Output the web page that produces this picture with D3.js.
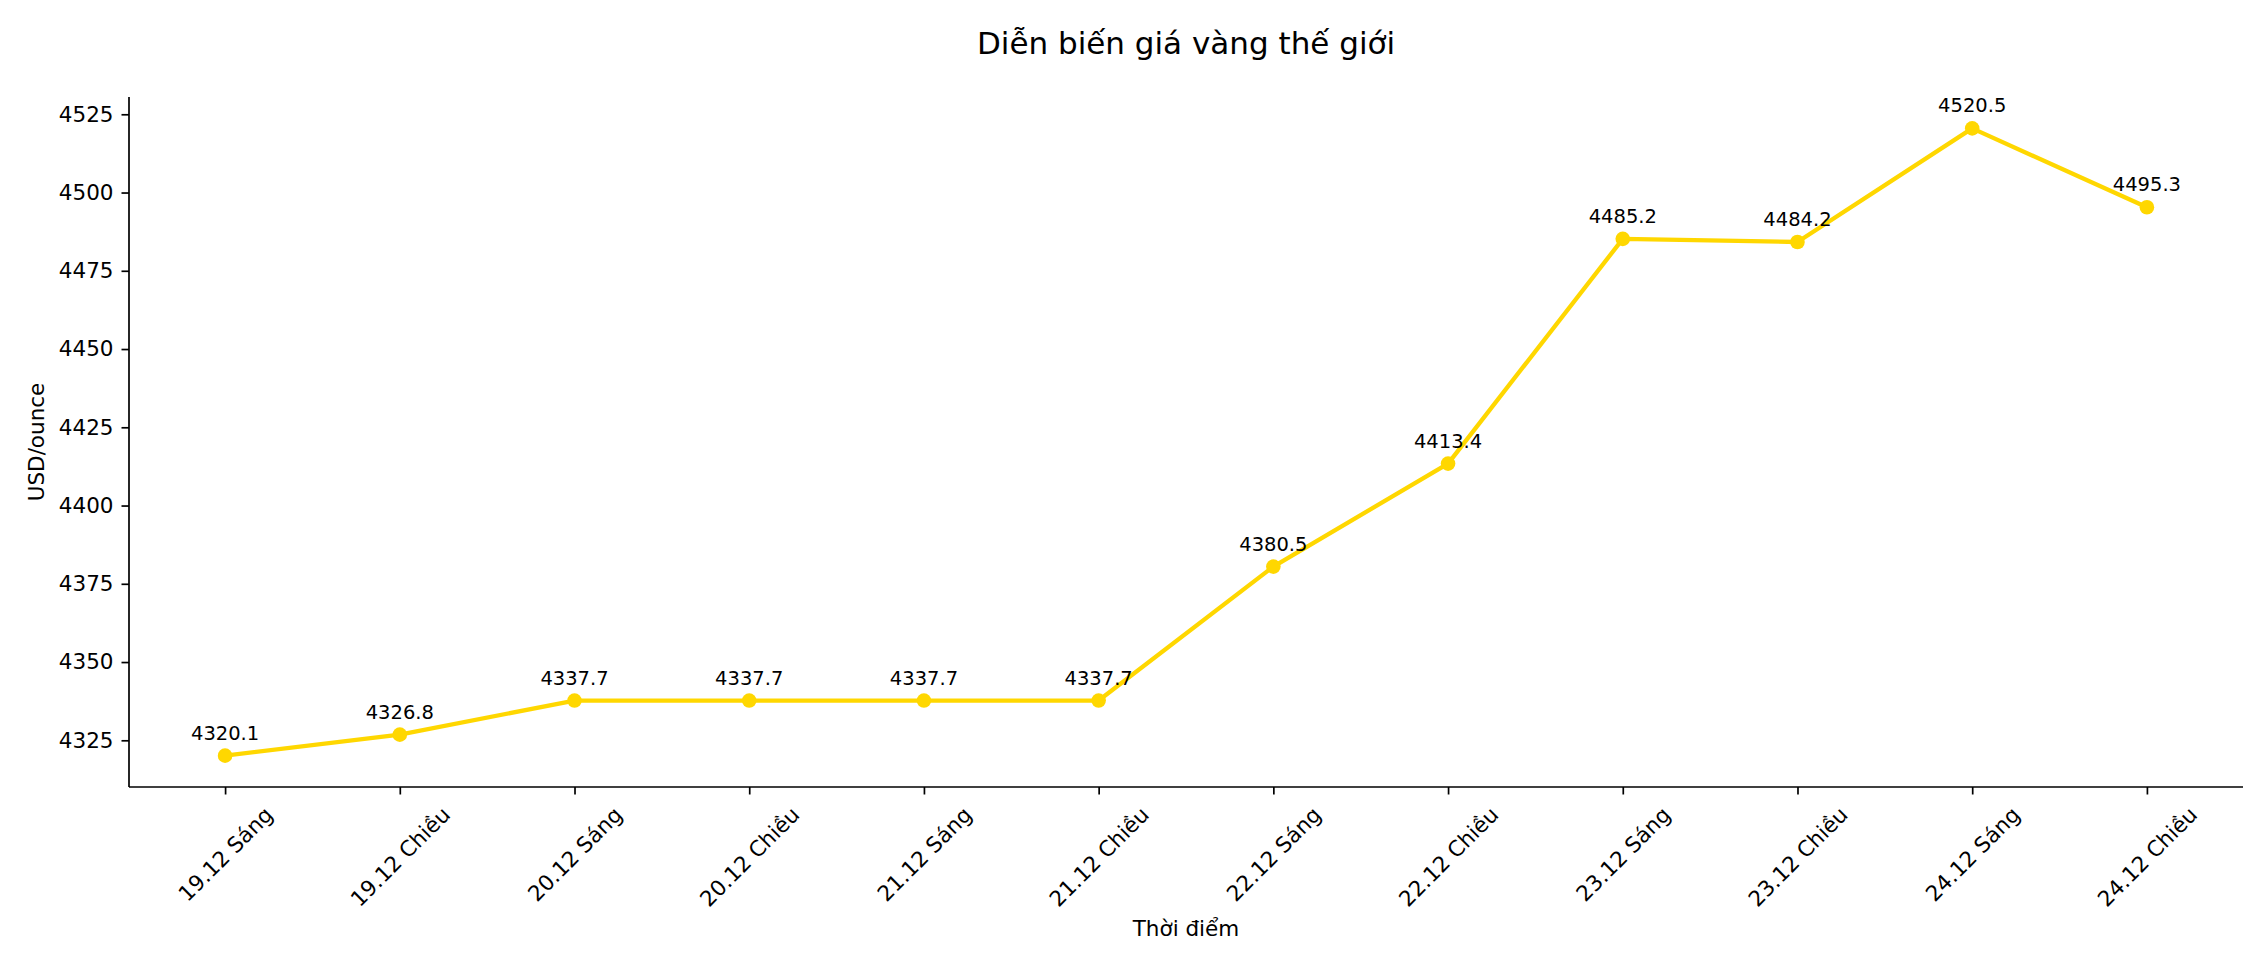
<!DOCTYPE html>
<html>
<head>
<meta charset="utf-8">
<script src="https://cdn.jsdelivr.net/npm/d3@7"></script>
<style>
  body { margin: 0; background: #fff; }
  text { font-family: "DejaVu Sans", sans-serif; fill: #000; }
</style>
</head>
<body>
<div id="chart-area"></div>
<script>
// data
let labels = ["19.12 Sáng", "19.12 Chiều", "20.12 Sáng", "20.12 Chiều", "21.12 Sáng", "21.12 Chiều",
              "22.12 Sáng", "22.12 Chiều", "23.12 Sáng", "23.12 Chiều", "24.12 Sáng", "24.12 Chiều"];
let prices = [4320.1, 4326.8, 4337.7, 4337.7, 4337.7, 4337.7, 4380.5, 4413.4, 4485.2, 4484.2, 4520.5, 4495.3];
let yTicks = [4325, 4350, 4375, 4400, 4425, 4450, 4475, 4500, 4525];

let chartTitle = "Diễn biến giá vàng thế giới";
let xTitle = "Thời điểm";
let yTitle = "USD/ounce";

// SVG drawing area
let W = 2268, H = 972;
let margin = {top: 97, right: 25, bottom: 185, left: 129};
let width = W - margin.left - margin.right,
    height = H - margin.top - margin.bottom;

let svg = d3.select("#chart-area").append("svg")
    .attr("width", W)
    .attr("height", H);

let g = svg.append("g")
    .attr("transform", `translate(${margin.left},${margin.top})`);

// Scales (matplotlib style 5% margins)
let n = prices.length;
let xPad = (n - 1) * 0.05;
let x = d3.scaleLinear()
    .domain([-xPad, n - 1 + xPad])
    .range([0, width]);

let yMin = d3.min(prices), yMax = d3.max(prices);
let yPad = (yMax - yMin) * 0.05;
let y = d3.scaleLinear()
    .domain([yMin - yPad, yMax + yPad])
    .range([height, 0]);

// Axes
let tickFont = 21.5;

let yAxis = g.append("g")
    .call(d3.axisLeft(y).tickValues(yTicks).tickFormat(d3.format("d")).tickSize(7.5).tickPadding(8));
yAxis.select(".domain").attr("stroke-width", 1.7).attr("d", `M0,0V${height}`);
yAxis.selectAll(".tick line").attr("stroke-width", 1.7);
yAxis.selectAll(".tick text")
    .style("font-size", tickFont + "px")
    .attr("font-family", null);

let xAxis = g.append("g")
    .attr("transform", `translate(0,${height})`)
    .call(d3.axisBottom(x).tickValues(d3.range(n)).tickFormat(i => labels[i]).tickSize(7.5));
xAxis.select(".domain").attr("stroke-width", 1.7).attr("d", `M0,0H${width}`);
xAxis.selectAll(".tick line").attr("stroke-width", 1.7);

// rotated tick labels, centred under tick like matplotlib rotation=45
let boxTop = 7.5 + 7.5;
let lineH = tickFont * 1.164;
let maxBottom = 0;
xAxis.selectAll(".tick text")
    .style("font-size", tickFont + "px")
    .attr("font-family", null)
    .attr("dy", null)
    .attr("y", null)
    .attr("text-anchor", "middle")
    .attr("dominant-baseline", "central")
    .each(function() {
        let w = this.getComputedTextLength();
        let bh = (w + lineH) / Math.SQRT2;
        let cy = boxTop + bh / 2;
        maxBottom = Math.max(maxBottom, boxTop + bh);
        d3.select(this).attr("transform", `translate(0,${cy}) rotate(-45)`);
    });

// axis titles
g.append("text")
    .attr("x", width / 2)
    .attr("y", height + maxBottom + 8.5)
    .attr("text-anchor", "middle")
    .attr("dominant-baseline", "hanging")
    .style("font-size", tickFont + "px")
    .text(xTitle);

g.append("text")
    .attr("transform", `translate(${36 - margin.left},${height / 2}) rotate(-90)`)
    .attr("text-anchor", "middle")
    .attr("dominant-baseline", "central")
    .style("font-size", tickFont + "px")
    .text(yTitle);

// title
svg.append("text")
    .attr("x", margin.left + width / 2)
    .attr("y", 54)
    .attr("text-anchor", "middle")
    .style("font-size", "31px")
    .text(chartTitle);

// line + markers
let gold = "#FFD700";
let line = d3.line()
    .x((d, i) => x(i))
    .y(d => y(d));

g.append("path")
    .datum(prices)
    .attr("fill", "none")
    .attr("stroke", gold)
    .attr("stroke-width", 4.3)
    .attr("stroke-linejoin", "round")
    .attr("d", line);

g.selectAll(".dot")
    .data(prices)
    .enter().append("circle")
    .attr("class", "dot")
    .attr("cx", (d, i) => x(i))
    .attr("cy", d => y(d))
    .attr("r", 7.3)
    .attr("fill", gold);

// value labels
g.selectAll(".val")
    .data(prices)
    .enter().append("text")
    .attr("class", "val")
    .attr("x", (d, i) => x(i))
    .attr("y", d => y(d) - 16)
    .attr("text-anchor", "middle")
    .style("font-size", "19.5px")
    .text(d => d.toFixed(1));
</script>
</body>
</html>
